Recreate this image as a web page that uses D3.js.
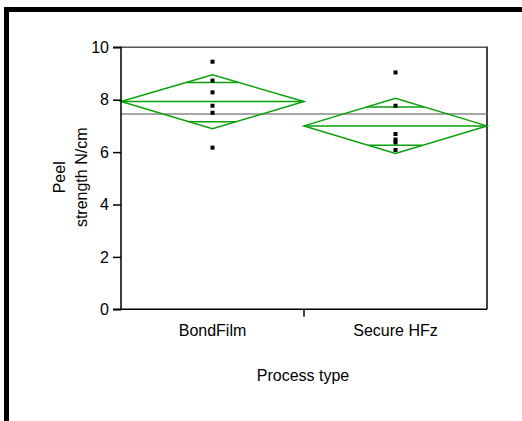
<!DOCTYPE html>
<html><head><meta charset="utf-8">
<script src="https://cdn.jsdelivr.net/npm/d3@7"></script>
<style>body{margin:0;background:#fff}svg{display:block}text{font-family:"Liberation Sans",Arial,sans-serif}</style>
</head><body>
<svg id="c" width="522" height="421"></svg>
<script>
const categories = ["BondFilm", "Secure HFz"];
const pointsBondFilm = [9.45, 8.73, 8.28, 7.77, 7.50, 6.17];
const pointsSecure = [9.04, 7.77, 6.69, 6.48, 6.37, 6.08];
const groupMeans = [7.93, 7.00];
const ciLower = [6.89, 5.95];
const ciUpper = [8.95, 8.05];
const overlapLower = [7.16, 6.26];
const overlapUpper = [8.66, 7.72];
const grandMean = 7.45;
const yTicks = [0, 2, 4, 6, 8, 10];
const xTitle = "Process type";
const yTitleLines = ["Peel", "strength N/cm"];

const svg = d3.select("#c");
const pL = 121, pR = 487, pT = 47.3, pB = 309.3;
const x = d3.scaleBand().domain(categories).range([pL, pR]).padding(0);
const y = d3.scaleLinear().domain([0, 10]).range([pB, pT]);
const green = "#0aa00a";

// outer frame
svg.append("rect").attr("x", 6.5).attr("y", 9.5).attr("width", 700).attr("height", 700)
  .attr("fill", "none").attr("stroke", "#000").attr("stroke-width", 5);

// plot frame top/right
svg.append("line").attr("x1", pL).attr("x2", pR).attr("y1", pT).attr("y2", pT)
  .attr("stroke", "#555").attr("stroke-width", 1.5);
svg.append("line").attr("x1", pR).attr("x2", pR).attr("y1", pT - 0.7).attr("y2", pB)
  .attr("stroke", "#444").attr("stroke-width", 2);

// grand mean
svg.append("line").attr("x1", pL).attr("x2", pR).attr("y1", y(grandMean)).attr("y2", y(grandMean))
  .attr("stroke", "#888").attr("stroke-width", 1.5);

// diamonds
categories.forEach((c, i) => {
  const x0 = x(c), x1 = x(c) + x.bandwidth(), xm = x(c) + x.bandwidth() / 2;
  const m = groupMeans[i], lo = ciLower[i], hi = ciUpper[i];
  const g = svg.append("g").attr("fill", "none").attr("stroke", green).attr("stroke-width", 1.5);
  g.append("path").attr("d", `M${x0},${y(m)}L${xm},${y(hi)}L${x1},${y(m)}L${xm},${y(lo)}Z`);
  g.append("line").attr("x1", x0).attr("x2", x1).attr("y1", y(m)).attr("y2", y(m));
  const half = x.bandwidth() / 2;
  [[overlapUpper[i], hi], [overlapLower[i], lo]].forEach(([v, tip]) => {
    const frac = (v - tip) / (m - tip);
    const w = half * frac;
    g.append("line").attr("x1", xm - w).attr("x2", xm + w).attr("y1", y(v)).attr("y2", y(v));
  });
});

// points
const allPts = [pointsBondFilm, pointsSecure];
categories.forEach((c, i) => {
  const xm = x(c) + x.bandwidth() / 2;
  svg.append("g").selectAll("rect").data(allPts[i]).join("rect")
    .attr("x", xm - 2).attr("y", d => y(d) - 2).attr("width", 4).attr("height", 4).attr("fill", "#000");
});

// y axis
const ya = svg.append("g").attr("transform", `translate(${pL},0)`)
  .call(d3.axisLeft(y).tickValues(yTicks).tickSize(8).tickPadding(4).tickFormat(d3.format("d")));
ya.select(".domain").attr("stroke", "#000").attr("stroke-width", 1.5).attr("d", `M-8,${pT}H0V${pB}`);
ya.selectAll(".tick line").attr("stroke", "#000").attr("stroke-width", 1.5);
ya.selectAll("text").attr("font-size", 16).attr("fill", "#000").style("font-family", "Liberation Sans, Arial, sans-serif");

// x axis
const xa = svg.append("g").attr("transform", `translate(0,${pB})`)
  .call(d3.axisBottom(x).tickSize(0).tickPadding(15));
xa.select(".domain").attr("stroke", "#000").attr("stroke-width", 1.5).attr("d", `M${pL - 8},0H${pR}`);
xa.selectAll("text").attr("font-size", 16).attr("fill", "#000").style("font-family", "Liberation Sans, Arial, sans-serif");
categories.slice(1).forEach(c => {
  xa.append("line").attr("x1", x(c)).attr("x2", x(c)).attr("y1", 0).attr("y2", 7.5)
    .attr("stroke", "#000").attr("stroke-width", 1.5);
});

// titles
svg.append("text").attr("x", (pL + pR) / 2 - 1).attr("y", 381).attr("text-anchor", "middle")
  .attr("font-size", 16).text(xTitle);
const yt = svg.append("text").attr("transform", `translate(0,${(pT + pB) / 2 - 1}) rotate(-90)`)
  .attr("text-anchor", "middle").attr("font-size", 16);
yTitleLines.forEach((t, i) => {
  yt.append("tspan").attr("x", 0).attr("y", 65 + i * 22).text(t);
});
</script>
</body></html>
